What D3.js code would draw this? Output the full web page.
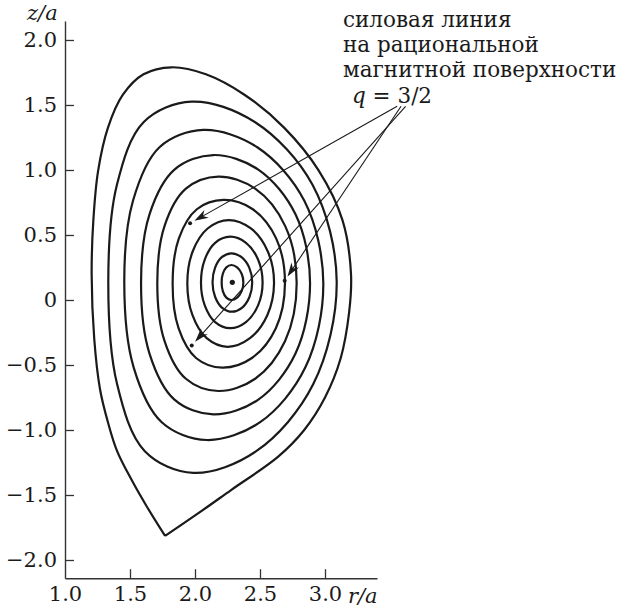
<!DOCTYPE html>
<html><head><meta charset="utf-8">
<script src="https://cdn.jsdelivr.net/npm/d3@7"></script>
<style>
body{margin:0;background:#fff}
svg{display:block}
</style>
</head><body>
<svg id="c" width="630" height="614" font-family="DejaVu Serif"></svg>
<script>
// ---- data (r/a, z/a) ----
const xTicks = [1.0, 1.5, 2.0, 2.5, 3.0];
const xTickLabels = ["1.0", "1.5", "2.0", "2.5", "3.0"];
const yTicks = [2.0, 1.5, 1.0, 0.5, 0, -0.5, -1.0, -1.5, -2.0];
const yTickLabels = ["2.0", "1.5", "1.0", "0.5", "0", "\u22120.5", "\u22121.0", "\u22121.5", "\u22122.0"];

// outer boundary: open path starting and ending at the X-point
const boundary = [
 [1.77,-1.815],[1.63,-1.59],[1.513,-1.385],[1.40,-1.16],[1.333,-0.95],[1.27,-0.69],
 [1.225,-0.30],[1.205,0.20],[1.218,0.612],[1.255,0.995],[1.330,1.324],[1.444,1.577],
 [1.604,1.736],[1.82,1.79],[2.084,1.736],[2.383,1.577],[2.687,1.324],[2.952,0.995],
 [3.135,0.612],[3.20,0.20],[3.185,-0.10],[3.12,-0.45],[3.00,-0.75],[2.84,-1.00],
 [2.64,-1.205],[2.28,-1.46],[2.026,-1.64],[1.77,-1.815]
];
const surface9 = [[3.09,0.14],[2.905,0.884],[2.460,1.369],[1.974,1.526],[1.606,1.369],[1.399,0.884],[1.333,0.14],[1.401,-0.649],[1.614,-1.163],[1.987,-1.33],[2.471,-1.163],[2.909,-0.649]];
const surface8 = [[2.987,0.13],[2.841,0.763],[2.479,1.175],[2.064,1.308],[1.727,1.175],[1.523,0.763],[1.456,0.13],[1.528,-0.518],[1.744,-0.94],[2.09,-1.077],[2.501,-0.94],[2.849,-0.518]];
const surface7 = [[2.885,0.13],[2.773,0.659],[2.487,1.003],[2.141,1.115],[1.842,1.003],[1.650,0.659],[1.585,0.13],[1.650,-0.412],[1.842,-0.766],[2.141,-0.88],[2.487,-0.766],[2.773,-0.412]];
const surface6 = [[2.782,0.13],[2.693,0.57],[2.463,0.856],[2.18,0.949],[1.930,0.856],[1.766,0.57],[1.71,0.13],[1.766,-0.316],[1.930,-0.606],[2.18,-0.70],[2.463,-0.606],[2.693,-0.316]];
const surface5 = [[2.692,0.13],[2.624,0.474],[2.445,0.698],[2.22,0.77],[2.014,0.698],[1.876,0.474],[1.828,0.13],[1.874,-0.219],[2.008,-0.446],[2.21,-0.52],[2.438,-0.446],[2.621,-0.219]];
const surface4 = [[2.608,0.13],[2.560,0.373],[2.430,0.55],[2.26,0.615],[2.097,0.55],[1.982,0.373],[1.941,0.13],[1.98,-0.115],[2.090,-0.294],[2.25,-0.36],[2.423,-0.294],[2.557,-0.115]];
const surface3 = [[2.52,0.135],[2.485,0.311],[2.392,0.44],[2.27,0.487],[2.155,0.44],[2.075,0.311],[2.046,0.135],[2.075,-0.041],[2.155,-0.17],[2.27,-0.217],[2.392,-0.17],[2.485,-0.041]];
const surface2 = [[2.44,0.135],[2.418,0.247],[2.358,0.329],[2.28,0.359],[2.206,0.329],[2.154,0.247],[2.135,0.135],[2.155,0.023],[2.209,-0.06],[2.285,-0.09],[2.361,-0.06],[2.419,0.023]];
const surface1 = [[2.372,0.135],[2.359,0.202],[2.324,0.251],[2.28,0.269],[2.241,0.251],[2.214,0.202],[2.205,0.135],[2.214,0.068],[2.241,0.018],[2.28,0.0],[2.324,0.018],[2.359,0.068]];
const closedSurfaces = [surface1, surface2, surface3, surface4, surface5, surface6, surface7, surface8, surface9];

const magneticAxis = [2.287, 0.136];
const fieldLinePoints = [[1.962, 0.59], [2.69, 0.148], [1.975, -0.35]];
const arrowStarts = [[3.555, 1.49], [3.585, 1.49], [3.62, 1.49]];
const annotationLines = ["силовая линия", "на рациональной", "магнитной поверхности"];

// ---- drawing ----
const FONT = "DejaVu Serif";
const svg = d3.select("#c");
const x = d3.scaleLinear().domain([1.0, 3.4]).range([65, 377]);
const y = d3.scaleLinear().domain([-2.14, 2.146]).range([578.2, 21]);
const INK = "#1a1a1a";

// axes
const yAxis = d3.axisLeft(y).tickValues(yTicks).tickFormat((d, i) => yTickLabels[i])
  .tickSizeInner(-9).tickSizeOuter(0).tickPadding(8);
const xAxis = d3.axisBottom(x).tickValues(xTicks).tickFormat((d, i) => xTickLabels[i])
  .tickSizeInner(-9).tickSizeOuter(0).tickPadding(8);
const gy = svg.append("g").attr("transform", `translate(${x(1.0)},0)`).call(yAxis);
const gx = svg.append("g").attr("transform", `translate(0,${y(-2.14)})`).call(xAxis);
[gx, gy].forEach(g => {
  g.attr("font-family", FONT).attr("font-size", 21);
  g.select(".domain").attr("stroke", "#333").attr("stroke-width", 1.4);
  g.selectAll(".tick line").attr("stroke", "#333").attr("stroke-width", 1.3);
  g.selectAll("text").attr("font-family", FONT).attr("font-size", 21).attr("fill", INK);
});
gx.selectAll(".tick").filter(d => d === 1.0).select("line").remove();

// axis titles
svg.append("text").attr("x", 27).attr("y", 20).attr("font-family", FONT).attr("font-size", 21)
  .attr("font-style", "italic").attr("fill", INK).text("z/a");
svg.append("text").attr("x", 348).attr("y", 603).attr("font-family", FONT).attr("font-size", 21)
  .attr("font-style", "italic").attr("fill", INK).text("r/a");

// flux surfaces
const closedLine = d3.line().x(d => x(d[0])).y(d => y(d[1])).curve(d3.curveCatmullRomClosed.alpha(0.5));
const openLine = d3.line().x(d => x(d[0])).y(d => y(d[1])).curve(d3.curveCatmullRom.alpha(0.5));
svg.append("g").selectAll("path").data(closedSurfaces).join("path")
  .attr("d", closedLine).attr("fill", "none").attr("stroke", INK).attr("stroke-width", 2.2);
svg.append("path").attr("d", openLine(boundary)).attr("fill", "none").attr("stroke", INK)
  .attr("stroke-width", 2.2).attr("stroke-linejoin", "miter");

// magnetic axis and field-line points
svg.append("circle").attr("cx", x(magneticAxis[0])).attr("cy", y(magneticAxis[1])).attr("r", 2.6).attr("fill", INK);
svg.append("g").selectAll("circle").data(fieldLinePoints).join("circle")
  .attr("cx", d => x(d[0])).attr("cy", d => y(d[1])).attr("r", 2.0).attr("fill", INK);

// arrows
const ag = svg.append("g");
arrowStarts.forEach((s, i) => {
  const t = fieldLinePoints[i];
  const x0 = x(s[0]), y0 = y(s[1]), x1 = x(t[0]), y1 = y(t[1]);
  const dx = x1 - x0, dy = y1 - y0, L = Math.hypot(dx, dy), ux = dx / L, uy = dy / L;
  const tipX = x1 - ux * 5, tipY = y1 - uy * 5;
  ag.append("line").attr("x1", x0).attr("y1", y0).attr("x2", tipX - ux * 8).attr("y2", tipY - uy * 8)
    .attr("stroke", INK).attr("stroke-width", 1.1);
  const hl = 14, hw = 4.5, px = -uy, py = ux;
  const bx = tipX - ux * hl, by = tipY - uy * hl, nx = tipX - ux * hl * 0.7, ny = tipY - uy * hl * 0.7;
  ag.append("path").attr("d", `M${tipX},${tipY}L${bx + px * hw},${by + py * hw}L${nx},${ny}L${bx - px * hw},${by - py * hw}Z`)
    .attr("fill", INK);
});

// annotation
const ann = svg.append("text").attr("font-family", FONT).attr("font-size", 21.5).attr("fill", INK);
annotationLines.forEach((s, i) => ann.append("tspan").attr("x", 343).attr("y", 27 + i * 25).text(s));
const qt = svg.append("text").attr("x", 352).attr("y", 103).attr("font-family", FONT).attr("font-size", 21.5).attr("fill", INK);
qt.append("tspan").attr("font-style", "italic").text("q");
qt.append("tspan").text(" = 3/2");
</script>
</body></html>
